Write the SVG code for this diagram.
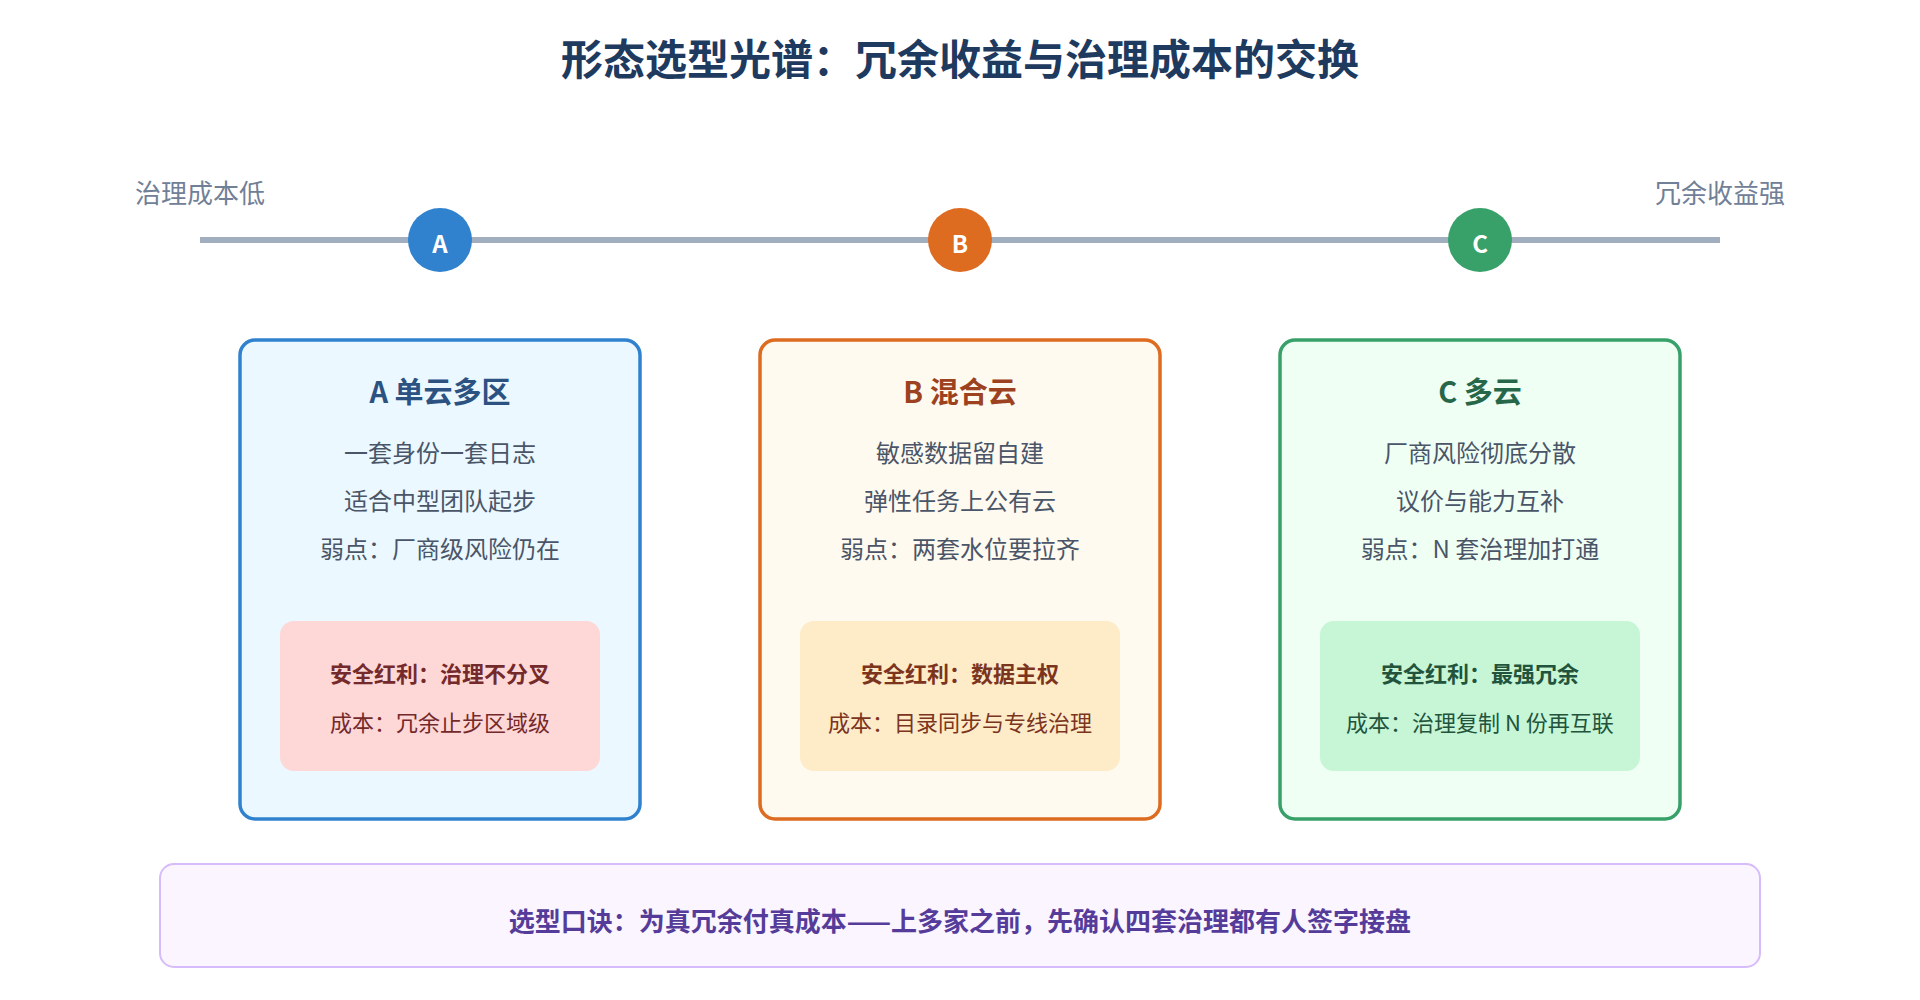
<svg xmlns="http://www.w3.org/2000/svg" width="1920" height="1000" viewBox="0 0 1920 1000">
<style>
text{font-family:"Noto Sans CJK SC","Noto Sans",sans-serif;text-anchor:middle;dominant-baseline:central}
.t{font-size:42px;font-weight:700;fill:#1e3a5f}
.ax{font-size:26px;fill:#718096}
.ct{font-size:29px;font-weight:700}
.ln{font-size:24px;fill:#4a5568}
.b1{font-size:22px;font-weight:700}
.b2{font-size:22px}
.dl{font-size:24px;font-weight:700;fill:#fff}
</style>
<rect width="1920" height="1000" fill="#fff"/>
<text class="t" x="960" y="56">形态选型光谱：冗余收益与治理成本的交换</text>
<text class="ax" x="200" y="191">治理成本低</text>
<text class="ax" x="1720" y="191">冗余收益强</text>
<g id="connectors"><line x1="200" y1="240" x2="1720" y2="240" stroke="#a0aec0" stroke-width="6"/></g>
<g id="dotA"><circle cx="440" cy="240" r="32" fill="#3182ce"/><text class="dl" x="440" y="242">A</text></g>
<g id="dotB"><circle cx="960" cy="240" r="32" fill="#dd6b20"/><text class="dl" x="960" y="242">B</text></g>
<g id="dotC"><circle cx="1480" cy="240" r="32" fill="#38a169"/><text class="dl" x="1480" y="242">C</text></g>
<g id="cardA">
<rect x="240" y="340" width="400" height="479" rx="15" fill="#ebf8ff" stroke="#3182ce" stroke-width="3.5"/>
<text class="ct" x="440" y="390" fill="#2c5282">A 单云多区</text>
<text class="ln" x="440" y="451">一套身份一套日志</text>
<text class="ln" x="440" y="499">适合中型团队起步</text>
<text class="ln" x="440" y="547">弱点：厂商级风险仍在</text>
<rect x="280" y="621" width="320" height="150" rx="14" fill="#fed7d7"/>
<text class="b1" x="440" y="672" fill="#742a2a">安全红利：治理不分叉</text>
<text class="b2" x="440" y="721" fill="#742a2a">成本：冗余止步区域级</text>
</g>
<g id="cardB">
<rect x="760" y="340" width="400" height="479" rx="15" fill="#fffaf0" stroke="#dd6b20" stroke-width="3.5"/>
<text class="ct" x="960" y="390" fill="#9c4221">B 混合云</text>
<text class="ln" x="960" y="451">敏感数据留自建</text>
<text class="ln" x="960" y="499">弹性任务上公有云</text>
<text class="ln" x="960" y="547">弱点：两套水位要拉齐</text>
<rect x="800" y="621" width="320" height="150" rx="14" fill="#feebc8"/>
<text class="b1" x="960" y="672" fill="#7b341e">安全红利：数据主权</text>
<text class="b2" x="960" y="721" fill="#7b341e">成本：目录同步与专线治理</text>
</g>
<g id="cardC">
<rect x="1280" y="340" width="400" height="479" rx="15" fill="#f0fff4" stroke="#38a169" stroke-width="3.5"/>
<text class="ct" x="1480" y="390" fill="#276749">C 多云</text>
<text class="ln" x="1480" y="451">厂商风险彻底分散</text>
<text class="ln" x="1480" y="499">议价与能力互补</text>
<text class="ln" x="1480" y="547">弱点：N 套治理加打通</text>
<rect x="1320" y="621" width="320" height="150" rx="14" fill="#c6f6d5"/>
<text class="b1" x="1480" y="672" fill="#22543d">安全红利：最强冗余</text>
<text class="b2" x="1480" y="721" fill="#22543d">成本：治理复制 N 份再互联</text>
</g>
<g id="motto">
<rect x="160" y="864" width="1600" height="103" rx="14" fill="#faf5ff" stroke="#d6bcfa" stroke-width="2"/>
<text x="960" y="919" font-size="26" font-weight="700" fill="#553c9a">选型口诀：为真冗余付真成本——上多家之前，先确认四套治理都有人签字接盘</text>
</g>
</svg>
